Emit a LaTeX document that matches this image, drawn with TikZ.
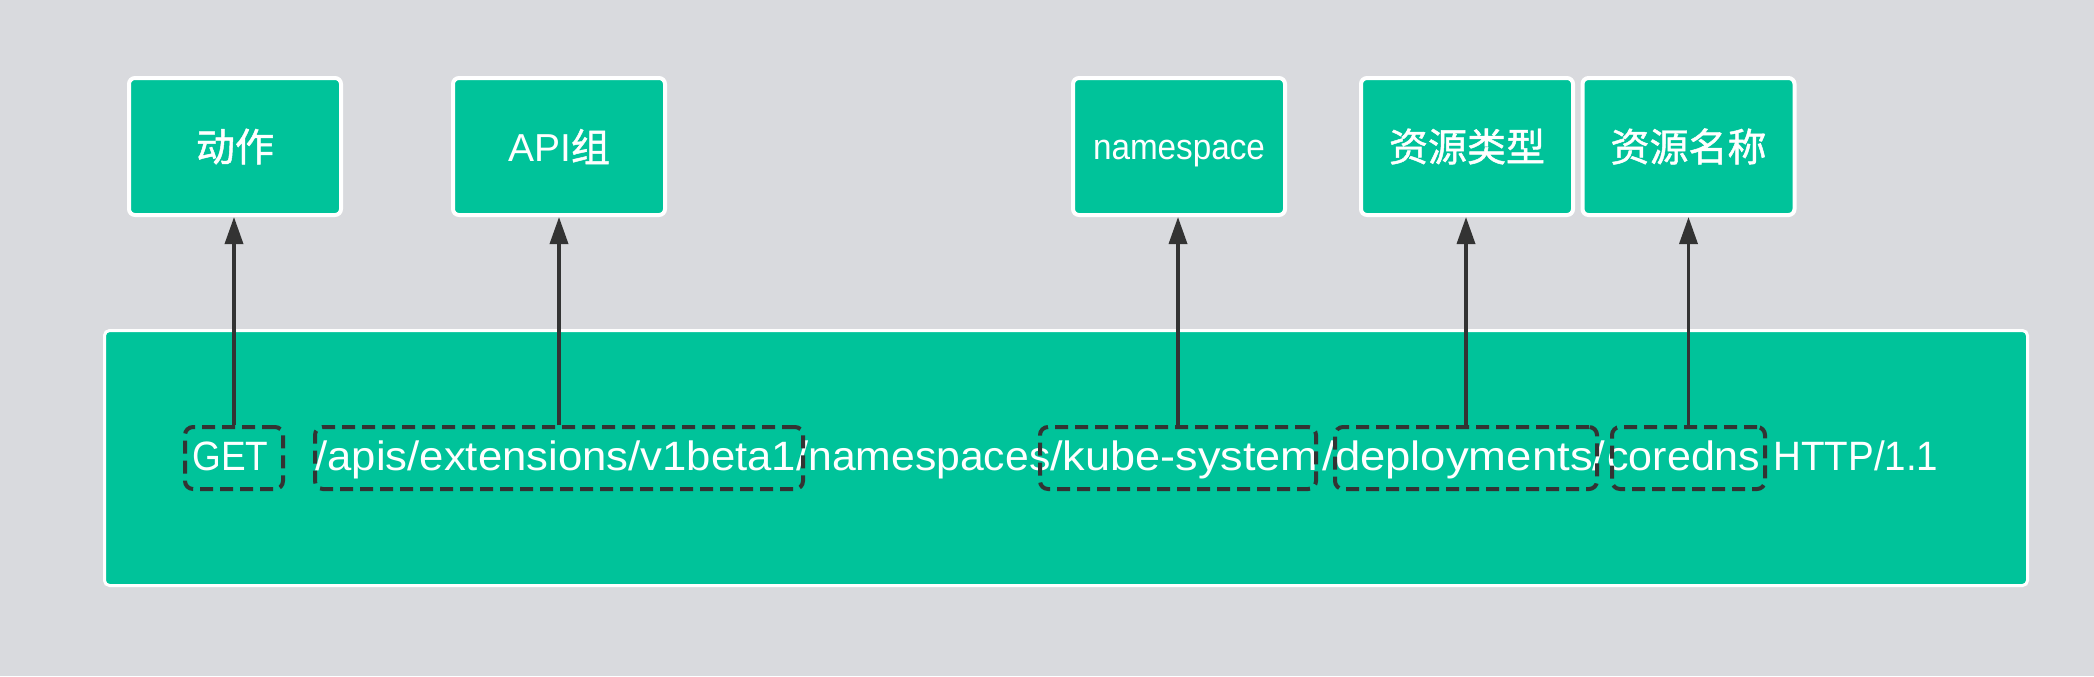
\documentclass[tikz,border=0pt]{standalone}
\usepackage{fontspec}
\usepackage{graphicx}
\setmainfont{Liberation Sans}
\newfontfamily\cjk{Noto Sans CJK SC}[FakeBold=1.2]
\usetikzlibrary{arrows.meta}
\definecolor{bgc}{RGB}{217,218,222}
\definecolor{grn}{RGB}{0,195,154}
\definecolor{dk}{RGB}{51,51,51}
\newcommand{\seg}[2]{\resizebox{#1}{\height}{#2}}
\begin{document}
\begin{tikzpicture}[x=0.5pt,y=-0.5pt,
  topbox/.style={draw=white, line width=2pt, fill=grn, rounded corners=3pt,
    minimum width=106pt, minimum height=68.5pt, inner sep=0pt, text=white,
    font=\fontsize{19.5pt}{23pt}\selectfont},
  bigbox/.style={draw=white, line width=1.5pt, fill=grn, rounded corners=2.5pt,
    minimum width=961.5pt, minimum height=127.5pt, inner sep=0pt},
  dbox/.style={draw=dk, line width=2pt, dash pattern=on 6.5pt off 3.5pt,
    rounded corners=4pt, minimum height=31pt, inner sep=0pt},
  conn/.style={draw=dk, line width=1.75pt, -{Triangle[length=13.5pt,width=9pt]}},
  linetext/.style={inner sep=0pt, text=white, anchor=base west,
    font=\fontsize{20.5pt}{24pt}\selectfont}
]
\fill[bgc] (0,0) rectangle (2094,676);
\useasboundingbox (0,0) rectangle (2094,676);

% top boxes
\node[topbox] (act)   at (235,146.5)    {\cjk 动作};
\node[topbox] (api)   at (559,146.5)    {API{\cjk 组}};
\node[topbox, font=\fontsize{18pt}{21pt}\selectfont, text height=12.5pt, text depth=0pt]
  (ns) at (1179,146.5) {\seg{86pt}{namespace}};
\node[topbox] (rtype) at (1467,146.5)   {\cjk 资源类型};
\node[topbox] (rname) at (1688.5,146.5) {\cjk 资源名称};

% big box
\node[bigbox] (big) at (1066,458) {};

% request line
\node[linetext] (t1) at (192,470)  {\seg{38pt}{GET}};
\node[linetext] (t2) at (315,470)  {\seg{246.5pt}{/apis/extensions/v1beta1/}};
\node[linetext] (t3) at (808,470)  {\seg{121pt}{namespaces}};
\node[linetext] (t4) at (1050,470) {\seg{134pt}{/kube-system}};
\node[linetext] (t5) at (1322,470) {\seg{141.5pt}{/deployments/}};
\node[linetext] (t6) at (1607,470) {\seg{76.5pt}{coredns}};
\node[linetext] (t7) at (1773,470) {\seg{82.5pt}{HTTP/1.1}};

% dashed boxes
\node[dbox, minimum width=49pt]  (dget) at (234,458)    {};
\node[dbox, minimum width=244pt] (dapi) at (559,458)    {};
\node[dbox, minimum width=138pt] (dns)  at (1178,458)   {};
\node[dbox, minimum width=131pt] (drt)  at (1466,458)   {};
\node[dbox, minimum width=76.5pt]  (drn)  at (1688.5,458) {};

% connectors
\draw[conn] (dget.north) -- (dget.north |- act.south);
\draw[conn] (dapi.north) -- (dapi.north |- api.south);
\draw[conn] (dns.north)  -- (dns.north  |- ns.south);
\draw[conn] (drt.north)  -- (drt.north  |- rtype.south);
\draw[conn] (drn.north)  -- (drn.north  |- rname.south);
\end{tikzpicture}
\end{document}
